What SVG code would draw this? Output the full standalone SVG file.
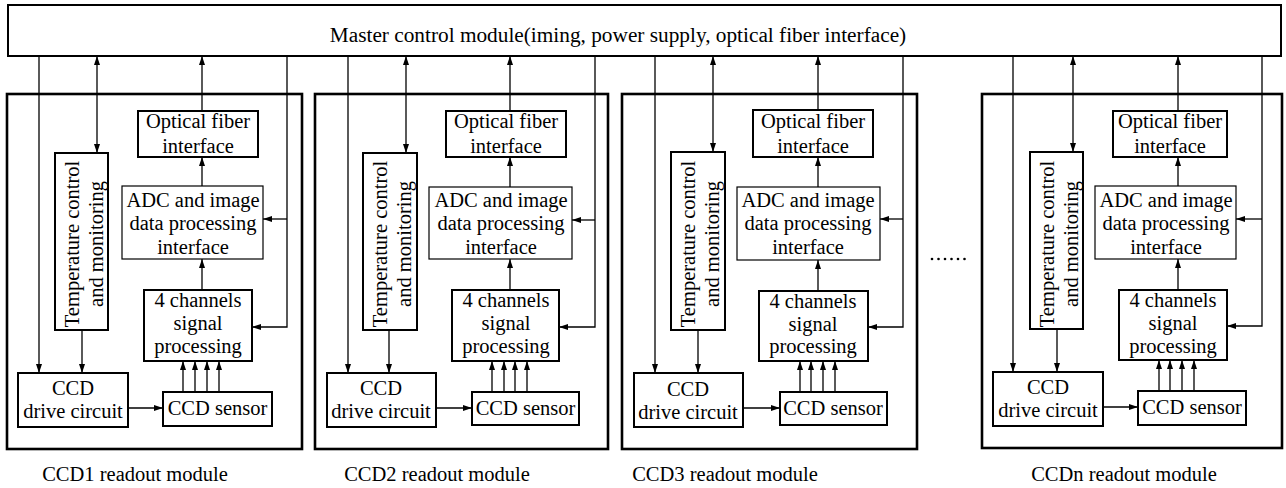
<svg xmlns="http://www.w3.org/2000/svg" width="1286" height="488" viewBox="0 0 1286 488" font-family="'Liberation Serif', 'Times New Roman', Times, 'DejaVu Serif', serif">
  <style>
    text { font-family: "Liberation Serif", "Times New Roman", Times, "DejaVu Serif", serif; font-size: 20.5px; fill: #000; text-anchor: middle; }
    .master-text { font-size: 21.3px; }
    .box { fill: #fff; stroke: #000; stroke-width: 2; }
    .thin { stroke-width: 1.2; }
    .outer { fill: none; stroke: #000; stroke-width: 2.6; }
    .wire { fill: none; stroke: #000; stroke-width: 1.3; }
    .arrow { marker-end: url(#head); }
    .both { marker-start: url(#head-start); marker-end: url(#head); }
  </style>
  <defs>
    <marker id="head" viewBox="0 0 9 6" refX="9" refY="3" markerWidth="9" markerHeight="6" markerUnits="userSpaceOnUse" orient="auto">
      <path d="M0,0 L9,3 L0,6 z" fill="#000"/>
    </marker>
    <marker id="head-start" viewBox="0 0 9 6" refX="9" refY="3" markerWidth="9" markerHeight="6" markerUnits="userSpaceOnUse" orient="auto-start-reverse">
      <path d="M0,0 L9,3 L0,6 z" fill="#000"/>
    </marker>
  </defs>
  <rect width="1286" height="488" fill="#fff"/>

  <!-- master control bar -->
  <g id="master">
    <rect class="box" x="8" y="5" width="1273" height="51"/>
    <text class="master-text" x="618" y="42">Master control module(iming, power supply, optical fiber interface)</text>
  </g>

  <!-- readout module 1 -->
  <g id="module1">
    <rect class="outer" x="7" y="94" width="295" height="355"/>
    <g id="m1-optical"><rect class="box" x="138" y="111" width="120" height="46"/><text x="198" y="128">Optical fiber</text><text x="198" y="153">interface</text></g>
    <g id="m1-adc"><rect class="box thin" x="122" y="186" width="141" height="73"/><text x="193" y="207">ADC and image</text><text x="193" y="230">data processing</text><text x="193" y="254">interface</text></g>
    <g id="m1-temp"><rect class="box" x="55" y="153" width="53" height="177"/><text transform="translate(79,244) rotate(-90)">Temperature control</text><text transform="translate(103,244) rotate(-90)">and monitoring</text></g>
    <g id="m1-signal"><rect class="box" x="144" y="290" width="108" height="71"/><text x="198" y="307">4 channels</text><text x="198" y="330">signal</text><text x="198" y="353">processing</text></g>
    <g id="m1-drive"><rect class="box" x="18" y="373" width="110" height="54"/><text x="73" y="395">CCD</text><text x="73" y="418">drive circuit</text></g>
    <g id="m1-sensor"><rect class="box" x="163" y="392" width="109" height="34"/><text x="217.5" y="415">CCD sensor</text></g>
    <text x="135" y="481">CCD1 readout module</text>
  </g>

  <!-- readout module 2 -->
  <g id="module2" transform="translate(308,0)">
    <rect class="outer" x="7" y="94" width="293" height="355"/>
    <g id="m2-optical"><rect class="box" x="138" y="111" width="120" height="46"/><text x="198" y="128">Optical fiber</text><text x="198" y="153">interface</text></g>
    <g id="m2-adc"><rect class="box thin" x="121" y="187" width="143" height="72"/><text x="193" y="207">ADC and image</text><text x="193" y="230">data processing</text><text x="193" y="254">interface</text></g>
    <g id="m2-temp"><rect class="box" x="55" y="153" width="54" height="177"/><text transform="translate(79,244) rotate(-90)">Temperature control</text><text transform="translate(103,244) rotate(-90)">and monitoring</text></g>
    <g id="m2-signal"><rect class="box" x="144" y="290" width="107" height="71"/><text x="198" y="307">4 channels</text><text x="198" y="330">signal</text><text x="198" y="353">processing</text></g>
    <g id="m2-drive"><rect class="box" x="19" y="373" width="109" height="54"/><text x="73" y="395">CCD</text><text x="73" y="418">drive circuit</text></g>
    <g id="m2-sensor"><rect class="box" x="164" y="392" width="107" height="33"/><text x="217.5" y="415">CCD sensor</text></g>
    <text x="129" y="481">CCD2 readout module</text>
  </g>

  <!-- readout module 3 -->
  <g id="module3" transform="translate(616,0)">
    <rect class="outer" x="6" y="94" width="295" height="355"/>
    <g id="m3-optical"><rect class="box" x="137" y="110" width="120" height="47"/><text x="197" y="128">Optical fiber</text><text x="197" y="153">interface</text></g>
    <g id="m3-adc"><rect class="box thin" x="121" y="187" width="143" height="73"/><text x="192" y="207">ADC and image</text><text x="192" y="230">data processing</text><text x="192" y="254">interface</text></g>
    <g id="m3-temp"><rect class="box" x="55" y="152" width="54" height="178"/><text transform="translate(79,244) rotate(-90)">Temperature control</text><text transform="translate(103,244) rotate(-90)">and monitoring</text></g>
    <g id="m3-signal"><rect class="box" x="143" y="291" width="109" height="70"/><text x="197" y="308">4 channels</text><text x="197" y="331">signal</text><text x="197" y="353">processing</text></g>
    <g id="m3-drive"><rect class="box" x="18" y="373" width="109" height="54"/><text x="72" y="396">CCD</text><text x="72" y="419">drive circuit</text></g>
    <g id="m3-sensor"><rect class="box" x="164" y="392" width="107" height="33"/><text x="217" y="415">CCD sensor</text></g>
    <text x="109" y="481">CCD3 readout module</text>
  </g>

  <!-- readout module n -->
  <g id="module-n" transform="translate(975,0)">
    <rect class="outer" x="7" y="94" width="300" height="354"/>
    <g id="mn-optical"><rect class="box" x="138" y="111" width="114" height="46"/><text x="195" y="128">Optical fiber</text><text x="195" y="153">interface</text></g>
    <g id="mn-adc"><rect class="box thin" x="120" y="186" width="141" height="73"/><text x="191" y="207">ADC and image</text><text x="191" y="230">data processing</text><text x="191" y="254">interface</text></g>
    <g id="mn-temp"><rect class="box" x="55" y="152" width="53" height="177"/><text transform="translate(79,244) rotate(-90)">Temperature control</text><text transform="translate(103,244) rotate(-90)">and monitoring</text></g>
    <g id="mn-signal"><rect class="box" x="144" y="290" width="108" height="70"/><text x="198" y="307">4 channels</text><text x="198" y="330">signal</text><text x="198" y="353">processing</text></g>
    <g id="mn-drive"><rect class="box" x="18" y="372" width="110" height="54"/><text x="73" y="394">CCD</text><text x="73" y="417">drive circuit</text></g>
    <g id="mn-sensor"><rect class="box" x="163" y="391" width="108" height="34"/><text x="217" y="414">CCD sensor</text></g>
    <text x="149" y="481">CCDn readout module</text>
  </g>

  <!-- ellipsis between module 3 and module n -->
  <g id="ellipsis" fill="#000">
    <circle cx="932" cy="259" r="1.3"/>
    <circle cx="938.5" cy="259" r="1.3"/>
    <circle cx="945" cy="259" r="1.3"/>
    <circle cx="951.5" cy="259" r="1.3"/>
    <circle cx="958" cy="259" r="1.3"/>
    <circle cx="964.5" cy="259" r="1.3"/>
  </g>

  <!-- connectors, one set per module in module coordinates -->
  <g id="connectors">
    <g id="wires-1">
      <path class="wire arrow" d="M39,56 V373"/>
      <path class="wire both" d="M97,56 V153"/>
      <path class="wire arrow" d="M202,111 V56"/>
      <path class="wire arrow" d="M202,186 V157"/>
      <path class="wire arrow" d="M202,290 V259"/>
      <path class="wire arrow" d="M287,56 V327 H252"/>
      <path class="wire arrow" d="M287,219 H263"/>
      <path class="wire arrow" d="M82,330 V373"/>
      <path class="wire arrow" d="M128,408 H163"/>
      <path class="wire arrow" d="M183,392 V361"/>
      <path class="wire arrow" d="M195,392 V361"/>
      <path class="wire arrow" d="M207,392 V361"/>
      <path class="wire arrow" d="M219,392 V361"/>
    </g>
    <g id="wires-2" transform="translate(308,0)">
      <path class="wire arrow" d="M40,56 V373"/>
      <path class="wire both" d="M98,56 V153"/>
      <path class="wire arrow" d="M202,111 V56"/>
      <path class="wire arrow" d="M202,187 V157"/>
      <path class="wire arrow" d="M202,290 V259"/>
      <path class="wire arrow" d="M287,56 V327 H251"/>
      <path class="wire arrow" d="M287,220 H264"/>
      <path class="wire arrow" d="M81,330 V373"/>
      <path class="wire arrow" d="M128,408 H164"/>
      <path class="wire arrow" d="M184,392 V361"/>
      <path class="wire arrow" d="M196,392 V361"/>
      <path class="wire arrow" d="M207,392 V361"/>
      <path class="wire arrow" d="M219,392 V361"/>
    </g>
    <g id="wires-3" transform="translate(616,0)">
      <path class="wire arrow" d="M39,56 V373" stroke-width="2"/>
      <path class="wire both" d="M97,56 V152"/>
      <path class="wire arrow" d="M202,110 V56"/>
      <path class="wire arrow" d="M202,187 V157"/>
      <path class="wire arrow" d="M202,291 V260"/>
      <path class="wire arrow" d="M287,56 V327 H252"/>
      <path class="wire arrow" d="M287,219 H264"/>
      <path class="wire arrow" d="M82,330 V373"/>
      <path class="wire arrow" d="M127,408 H164"/>
      <path class="wire arrow" d="M184,392 V361"/>
      <path class="wire arrow" d="M195,392 V361"/>
      <path class="wire arrow" d="M207,392 V361"/>
      <path class="wire arrow" d="M219,392 V361"/>
    </g>
    <g id="wires-n" transform="translate(975,0)">
      <path class="wire arrow" d="M38,56 V372"/>
      <path class="wire both" d="M98,56 V152"/>
      <path class="wire arrow" d="M203,111 V56"/>
      <path class="wire arrow" d="M203,186 V157"/>
      <path class="wire arrow" d="M203,290 V259"/>
      <path class="wire arrow" d="M287,56 V326 H252" stroke-width="2"/>
      <path class="wire arrow" d="M287,219 H261"/>
      <path class="wire arrow" d="M82,329 V372"/>
      <path class="wire arrow" d="M128,407 H163"/>
      <path class="wire arrow" d="M184,391 V360"/>
      <path class="wire arrow" d="M195,391 V360"/>
      <path class="wire arrow" d="M207,391 V360"/>
      <path class="wire arrow" d="M219,391 V360"/>
    </g>
  </g>
</svg>
